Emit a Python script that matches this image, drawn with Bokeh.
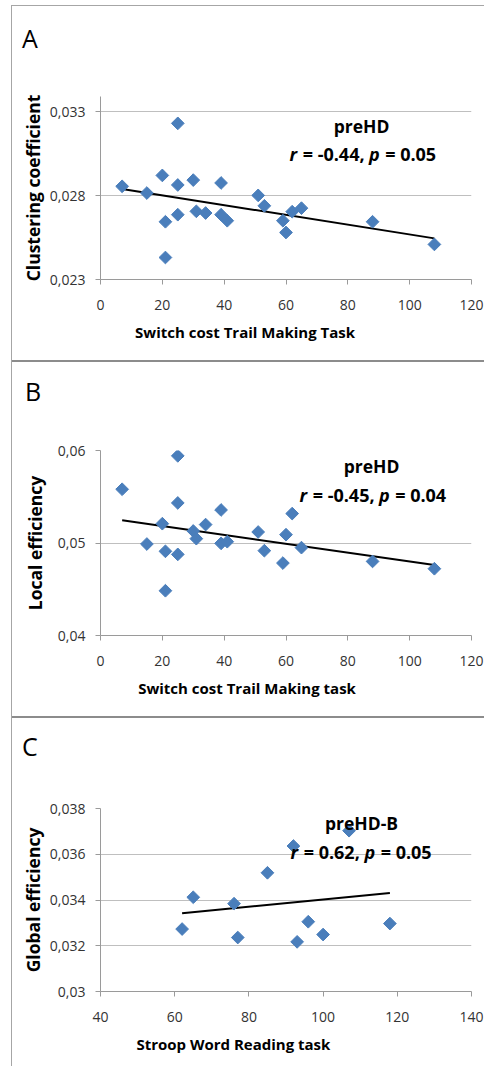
import math
from bokeh.plotting import figure
from bokeh.models import Range1d, FixedTicker, CustomJSTickFormatter, Label, Div
from bokeh.layouts import row, column
from bokeh.embed import file_html
from bokeh.resources import INLINE

# ---------------- data ----------------
a_x = [7, 15, 20, 21, 21, 25, 25, 25, 30, 31, 34, 39, 39, 41, 51, 53, 59, 60, 62, 65, 88, 108]
a_y = [0.02855, 0.02815, 0.0292, 0.02644, 0.02431, 0.0323, 0.02863, 0.02686, 0.02892, 0.02706,
       0.02696, 0.02875, 0.02686, 0.0265, 0.02801, 0.02739, 0.0265, 0.0258, 0.02704, 0.02725,
       0.02644, 0.02509]
a_trend_x = [7, 108]
a_trend_y = [0.02839, 0.02545]

b_x = [7, 15, 20, 21, 21, 25, 25, 25, 30, 31, 34, 39, 39, 41, 51, 53, 59, 60, 62, 65, 88, 108]
b_y = [0.05581, 0.04989, 0.05209, 0.0491, 0.04484, 0.05942, 0.05433, 0.04877, 0.0513, 0.05047,
       0.05199, 0.05357, 0.04996, 0.05014, 0.05119, 0.04917, 0.04783, 0.0509, 0.05318, 0.0495,
       0.04801, 0.04722]
b_trend_x = [7, 108]
b_trend_y = [0.05245, 0.04762]

c_x = [62, 65, 76, 77, 85, 92, 93, 96, 100, 107, 118]
c_y = [0.03273, 0.03412, 0.03384, 0.03236, 0.03519, 0.03636, 0.03217, 0.03305, 0.03249, 0.03703, 0.03297]
c_trend_x = [62, 118]
c_trend_y = [0.03342, 0.03431]

a_xticks = [0, 20, 40, 60, 80, 100, 120]
a_yticks = [0.023, 0.028, 0.033]
b_xticks = [0, 20, 40, 60, 80, 100, 120]
b_yticks = [0.04, 0.05, 0.06]
c_xticks = [40, 60, 80, 100, 120, 140]
c_yticks = [0.03, 0.032, 0.034, 0.036, 0.038]

# ---------------- styling ----------------
FONT = "Open Sans"
BLUE = "#4A7EBB"
AXIS = "#9a9a9a"
GRID = "#bfbfbf"
TICK = "#333333"
NB = "\u00a0"
W = 472

fmt = CustomJSTickFormatter(code="return String(+tick.toFixed(4)).replace('.', ',');")


def make_fig(h, left, top, bottom, xr, yr, xticks, yticks, xlabel, ylabel, ylab_standoff):
    p = figure(width=W, height=h, x_range=Range1d(*xr), y_range=Range1d(*yr),
               output_backend="svg", toolbar_location=None,
               min_border_left=left, min_border_right=13,
               min_border_top=top, min_border_bottom=bottom)
    p.title.visible = False
    p.outline_line_color = None
    p.background_fill_color = "white"
    p.border_fill_color = "white"
    p.xgrid.visible = False
    p.ygrid.grid_line_color = GRID
    p.ygrid.grid_line_width = 1
    p.xaxis.ticker = FixedTicker(ticks=xticks)
    p.yaxis.ticker = FixedTicker(ticks=yticks)
    p.yaxis.formatter = fmt
    for ax in (p.xaxis, p.yaxis):
        ax.axis_line_color = AXIS
        ax.major_tick_line_color = AXIS
        ax.major_tick_out = 5
        ax.major_tick_in = 0
        ax.minor_tick_line_color = None
        ax.major_label_text_font = FONT
        ax.major_label_text_font_size = "14px"
        ax.major_label_text_color = TICK
        ax.axis_label_text_font = FONT
        ax.axis_label_text_font_style = "bold"
        ax.axis_label_text_color = "black"
    p.yaxis.major_label_standoff = 10
    p.xaxis.major_label_standoff = 15
    p.xaxis.axis_label = xlabel
    p.xaxis.axis_label_text_font_size = "15px"
    p.xaxis.axis_label_standoff = 9
    p.yaxis.axis_label = ylabel
    p.yaxis.axis_label_text_font_size = "17.5px"
    p.yaxis.axis_label_standoff = ylab_standoff
    return p


def letter_div(letter, pad_top, pad_left):
    html = ('<div style="padding:%dpx 0 0 %dpx; margin:0; font-family:\'Open Sans\'; '
            'font-size:25px; line-height:25px; color:black;">%s</div>' % (pad_top, pad_left, letter))
    return Div(text=html, width=W, height=50, margin=0,
               styles={"overflow": "hidden", "background-color": "white"})


def lab(p, x0, y0, dx, dy, text, size, style="normal", align="left", baseline="middle"):
    p.add_layout(Label(x=x0, y=y0, x_offset=dx, y_offset=dy, text=text,
                       text_font=FONT, text_font_size=size, text_font_style=style,
                       text_align=align, text_baseline=baseline, text_color="black"))


def stat_line(p, x0, y0, dx, dy, rtxt, ptxt, offs):
    lab(p, x0, y0, dx + offs[0], dy, "r", "18px", "bold italic")
    lab(p, x0, y0, dx + offs[1], dy, rtxt, "18px", "bold")
    lab(p, x0, y0, dx + offs[2], dy, "p", "18px", "bold italic")
    lab(p, x0, y0, dx + offs[3], dy, ptxt, "18px", "bold")


def draw(p, xs, ys, tx, ty):
    p.line(tx, ty, line_color="black", line_width=2)
    p.scatter(xs, ys, marker="square", angle=math.pi / 4, size=9,
              fill_color=BLUE, line_color=BLUE)


# ---------------- panel A ----------------
pa = make_fig(304, 88, 40, 81, (0, 120), (0.023, 0.0339), a_xticks, a_yticks,
              "Switch cost Trail Making Task" + NB * 21, "Clustering coefficient", 2)
draw(pa, a_x, a_y, a_trend_x, a_trend_y)
lab(pa, 0, 0.023, 261, 154, "preHD", "17.5px", "bold", "center")
stat_line(pa, 0, 0.023, 189, 126, NB + "=" + NB + "-0.44," + NB, NB + "=" + NB + "0.05", [0, 8.5, 79.5, 91])

# ---------------- panel B ----------------
pb = make_fig(304, 80, 38, 81, (0, 120), (0.04, 0.06), b_xticks, b_yticks,
              "Switch cost Trail Making task" + NB * 20, "Local efficiency", 8)
draw(pb, b_x, b_y, b_trend_x, b_trend_y)
lab(pb, 0, 0.04, 271, 170, "preHD", "17.5px", "bold", "center")
stat_line(pb, 0, 0.04, 199, 141, NB + "=" + NB + "-0.45," + NB, NB + "=" + NB + "0.04", [0, 8.5, 79.5, 91])

# ---------------- panel C ----------------
pc = make_fig(298, 88, 40, 75, (40, 140), (0.03, 0.038), c_xticks, c_yticks,
              "Stroop Word Reading task" + NB * 27, "Global efficiency", 2)
draw(pc, c_x, c_y, c_trend_x, c_trend_y)
lab(pc, 40, 0.03, 261, 169, "preHD-B", "17.5px", "bold", "center")
stat_line(pc, 40, 0.03, 190, 140, NB + "=" + NB + "0.62," + NB, NB + "=" + NB + "0.05", [0, 8.5, 74, 85.5])


def bar(w, h, color):
    return Div(text="", width=w, height=h, margin=0,
               styles={"background-color": color, "overflow": "hidden"})


panels = column(bar(W, 1, "#a6a6a6"),
                letter_div("A", 20, 10), pa, bar(W, 2, "#8c8c8c"),
                letter_div("B", 17, 13), pb, bar(W, 2, "#8c8c8c"),
                letter_div("C", 16, 10), pc,
                spacing=0, margin=0)
layout = row(bar(1, 1061, "#a6a6a6"), panels, spacing=0, margin=(5, 0, 0, 11))

with open("out.html", "w") as f:
    f.write(file_html(layout, INLINE))
